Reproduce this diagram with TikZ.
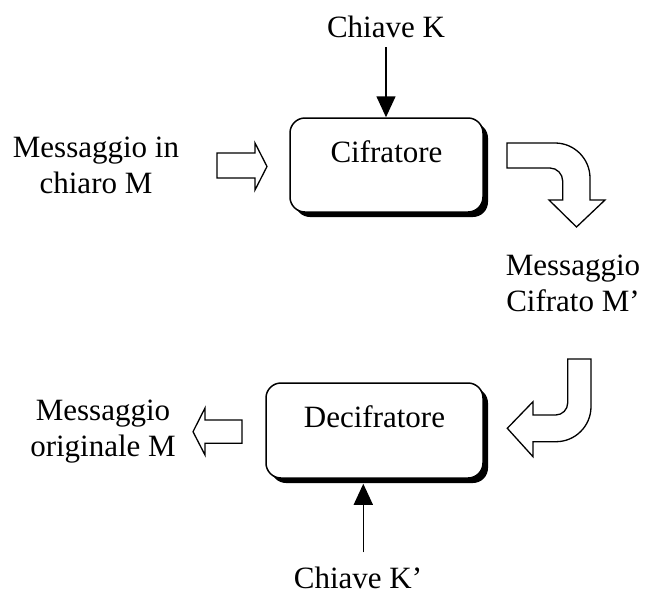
\documentclass[tikz,border=0pt]{standalone}
\usepackage{fontspec}
\setmainfont{Liberation Serif}
\usetikzlibrary{arrows.meta,shadows,calc}
\begin{document}
\begin{tikzpicture}[x=1pt,y=-1pt,
  lbl/.style={font=\fontsize{31}{36}\selectfont, align=center, inner sep=0pt, anchor=base},
  stage/.style={draw, line width=1.5pt, rounded corners=15pt, fill=white, inner sep=0pt,
    text height=20pt, text depth=26pt, font=\fontsize{31}{36}\selectfont,
    drop shadow={shadow xshift=5pt, shadow yshift=-5pt, fill=black, opacity=1}},
  keyarrow/.style={line width=1.5pt, -{Triangle[length=21pt,width=19pt]}},
  hollow/.style={draw, line width=1.3pt, fill=white, line join=miter}]
\useasboundingbox (0,0) rectangle (649,595);

% the two processing stages
\node[stage, minimum width=193pt, minimum height=94pt] (cif) at (386.5,165) {Cifratore};
\node[stage, minimum width=217pt, minimum height=95pt] (dec) at (374.5,430.5) {Decifratore};

% labels (base anchor = baseline of the last line)
\node[lbl] (kK)    at (386,37)  {Chiave K};
\node[lbl] (kK2)   at (358,588) {Chiave K’};
\node[lbl] (plain) at (96,193)  {Messaggio in\\chiaro M};
\node[lbl] (ciph)  at (573,311) {Messaggio\\Cifrato M’};
\node[lbl] (orig)  at (103,456) {Messaggio\\originale M};

% key inputs
\coordinate (kin) at ([yshift=-9.7pt]kK.south);
\draw[keyarrow] (kin) -- (kin |- cif.north);
\coordinate (kin2) at ([xshift=5.3pt,yshift=14pt]kK2.north);
\draw[keyarrow] (kin2) -- ($(kin2 |- dec.south)+(0,5)$);

% block arrows for the message flow
\path[hollow] (217,153) -- (255,153) -- (255,143) -- (267,166.5) -- (255,190)
  -- (255,178) -- (217,178) -- cycle;
\path[hollow] (507,143) -- (555,143) .. controls (574.3,143) and (590,158.7) .. (590,178)
  -- (590,200) -- (605,200) -- (576.5,227) -- (549,200) -- (562.7,200) -- (562.7,181)
  .. controls (562.7,174) and (557,168) .. (550,168) -- (507,168) -- cycle;
\path[hollow] (567.7,359) -- (591,359) -- (591,406.7)
  .. controls (591,426) and (575.3,441.7) .. (556,441.7) -- (533,441.7) -- (533,456.7)
  -- (507.3,428.3) -- (533,401.7) -- (533,415) -- (555.7,415)
  .. controls (562.3,415) and (567.7,409.6) .. (567.7,403) -- cycle;
\path[hollow] (242,420) -- (205,420) -- (205,408) -- (193,431.7) -- (205,455)
  -- (205,443.3) -- (242,443.3) -- cycle;
\end{tikzpicture}
\end{document}
